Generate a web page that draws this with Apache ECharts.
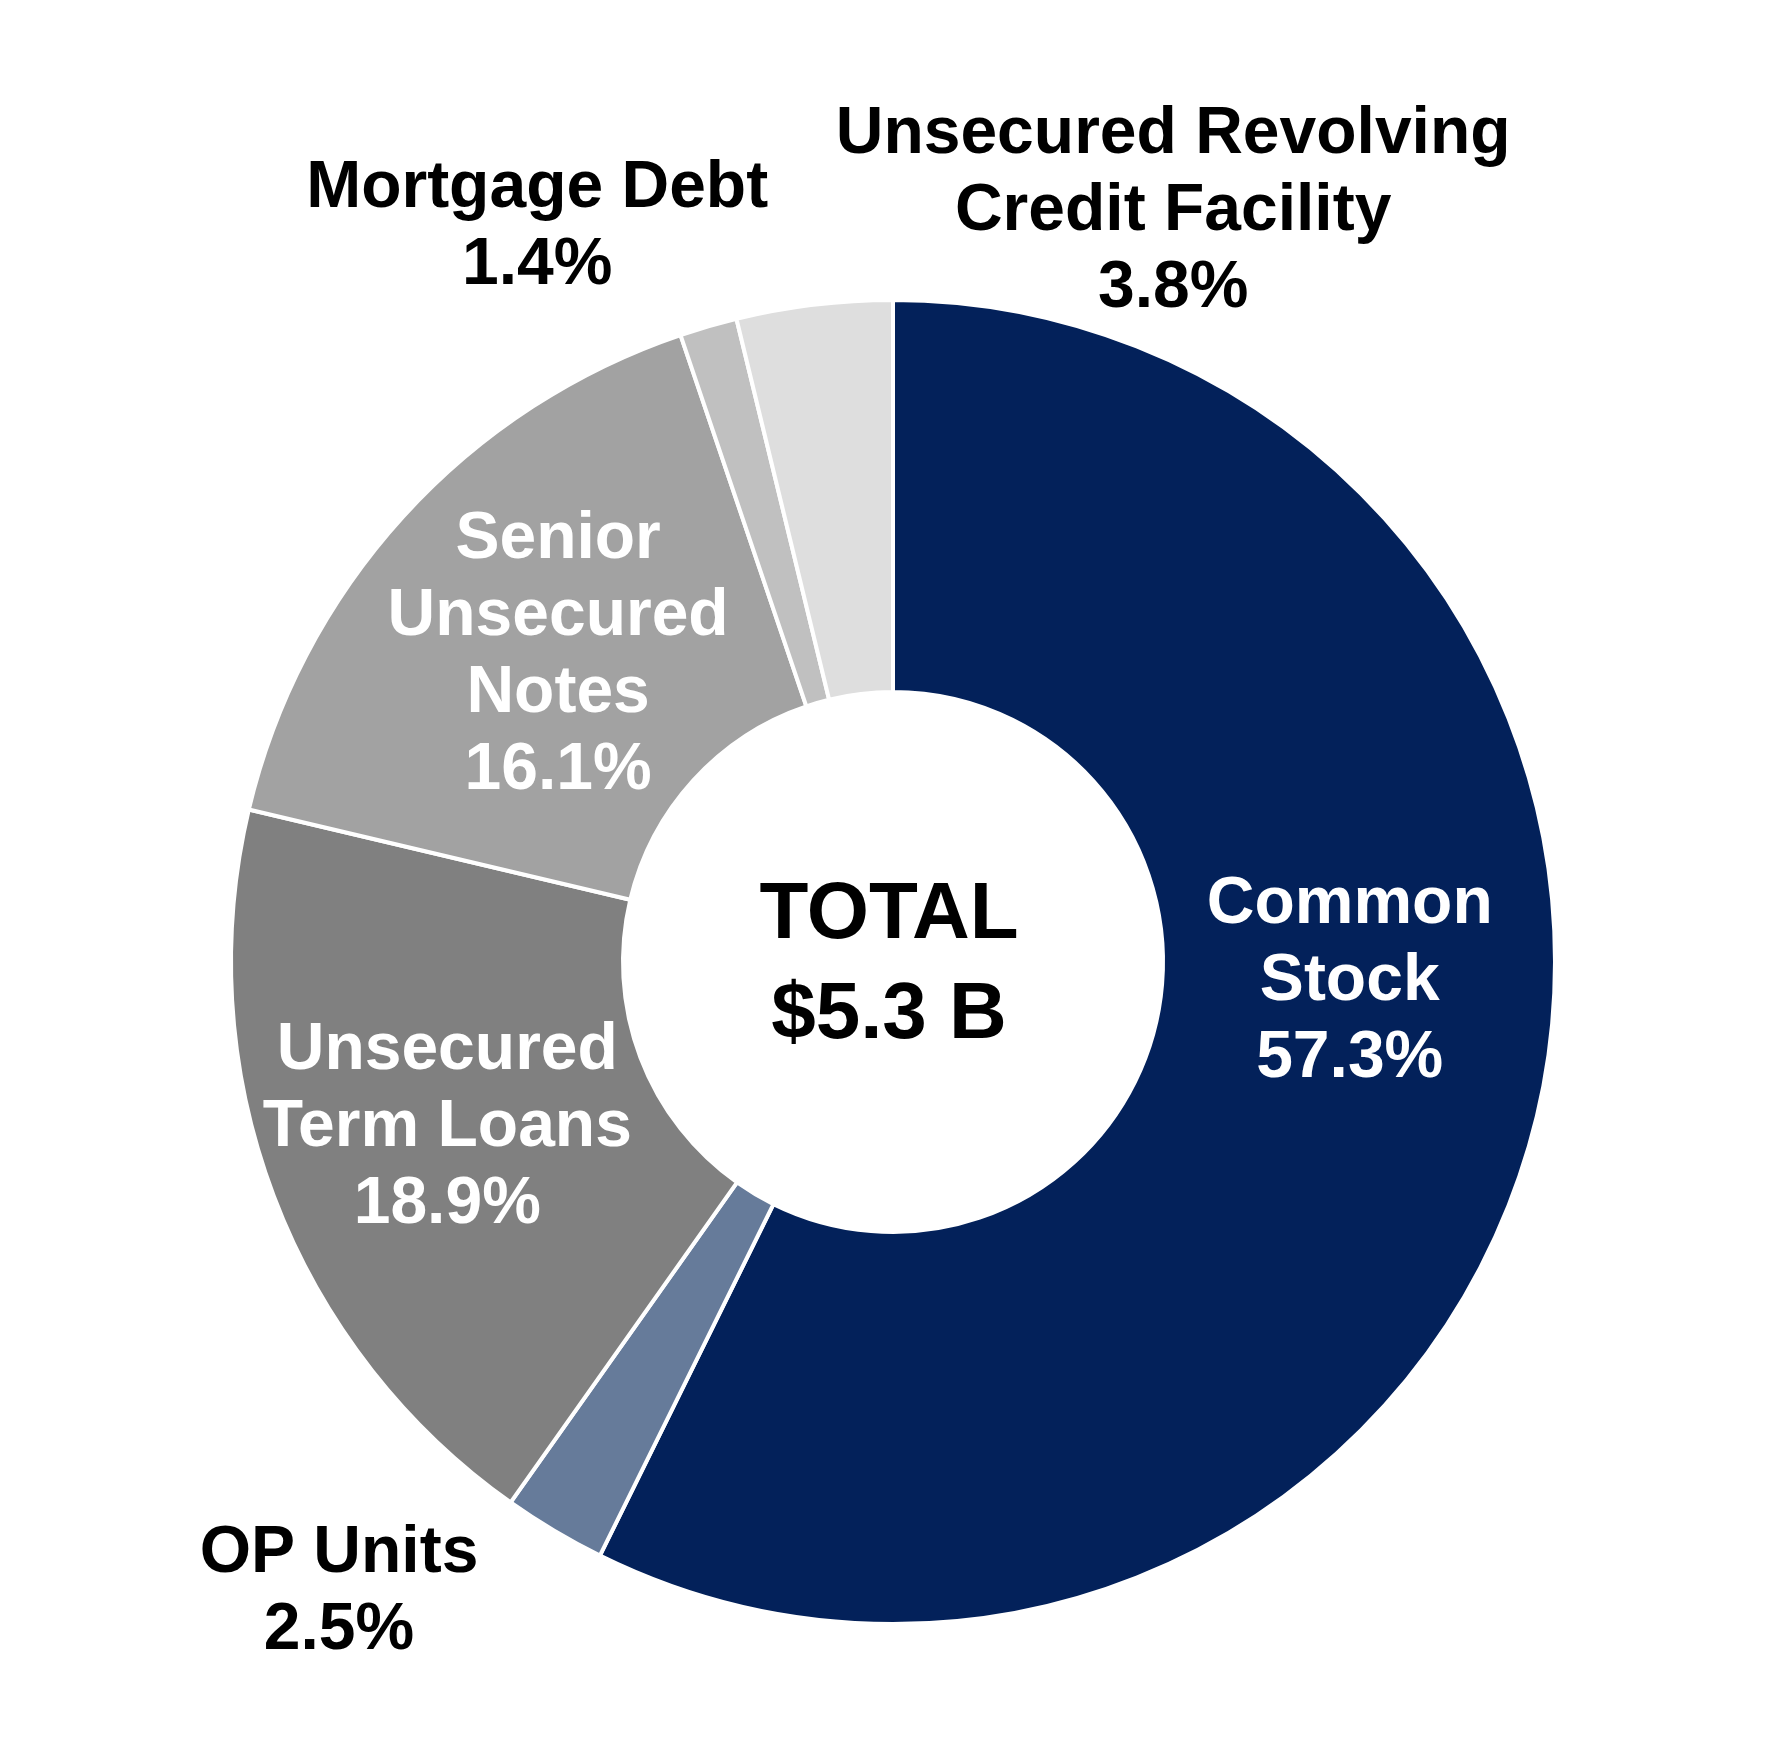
<!DOCTYPE html>
<html>
<head>
<meta charset="utf-8">
<script src="https://cdn.jsdelivr.net/npm/echarts@6/dist/echarts.min.js"></script>
<style>
html,body{margin:0;padding:0;background:#fff;}
#chart{width:1781px;height:1757px;}
</style>
</head>
<body>
<div id="chart"></div>
<script>
const categories = ['Common Stock', 'OP Units', 'Unsecured Term Loans', 'Senior Unsecured Notes', 'Mortgage Debt', 'Unsecured Revolving Credit Facility'];
const labelTexts = ['Common\nStock', 'OP Units', 'Unsecured\nTerm Loans', 'Senior\nUnsecured\nNotes', 'Mortgage Debt', 'Unsecured Revolving\nCredit Facility'];
const values = [57.3, 2.5, 18.9, 16.1, 1.4, 3.8];
const colors = ['#03215a', '#667b9a', '#808080', '#a2a2a2', '#c0c0c0', '#dedede'];
const labelColors = ['#ffffff', '#000000', '#ffffff', '#ffffff', '#000000', '#000000'];
const labelShift = [[0, -87], [-314, 227], [-7, 0], [12, 9], [-225, -284], [336, -285]];
const totalText = 'TOTAL\n$5.3 B';

const chart = echarts.init(document.getElementById('chart'), null, {renderer: 'canvas'});
chart.setOption({
  backgroundColor: '#ffffff',
  animation: false,
  graphic: [{
    type: 'text',
    x: 889,
    y: 966,
    style: {
      text: totalText,
      fill: '#000000',
      font: 'bold 80px "Liberation Sans", Arial, sans-serif',
      align: 'center',
      verticalAlign: 'middle',
      textAlign: 'center',
      textVerticalAlign: 'middle',
      lineHeight: 100
    }
  }],
  series: [{
    type: 'pie',
    center: [893, 962],
    radius: [270, 662],
    startAngle: 90,
    clockwise: true,
    avoidLabelOverlap: false,
    itemStyle: {borderColor: '#ffffff', borderWidth: 4},
    emphasis: {disabled: true},
    labelLine: {show: false},
    label: {
      show: true,
      position: 'inside',
      fontFamily: '"Liberation Sans", Arial, sans-serif',
      fontWeight: 'bold',
      fontSize: 66,
      lineHeight: 77,
      align: 'center',
      formatter: function (p) { return labelTexts[p.dataIndex] + '\n' + p.value.toFixed(1) + '%'; }
    },
    labelLayout: function (p) {
      return {dx: labelShift[p.dataIndex][0], dy: labelShift[p.dataIndex][1]};
    },
    data: categories.map(function (c, i) {
      return {
        name: c,
        value: values[i],
        itemStyle: {color: colors[i]},
        label: {color: labelColors[i]}
      };
    })
  }]
});
</script>
</body>
</html>
